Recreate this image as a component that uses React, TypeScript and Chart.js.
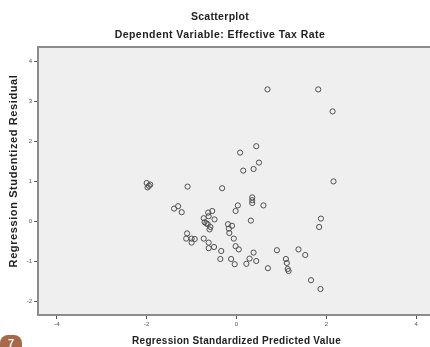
import React, { useEffect, useRef } from "react";
import { Chart, registerables } from "chart.js";

Chart.register(...registerables);

const titleText = "Scatterplot";
const subtitleText = "Dependent Variable: Effective Tax Rate";
const xAxisTitle = "Regression Standardized Predicted Value";
const yAxisTitle = "Regression Studentized Residual";

const xValues = [
  0.69, 1.82, 2.14, 0.44, 0.08, 0.5, 0.38, 0.15, 2.16, -2.0,
  -1.95, -1.98, -1.92, -1.09, -0.32, -1.39, -1.3, -1.22, 0.35, 0.35,
  0.35, 0.03, -0.02, 0.6, 0.32, -0.54, -0.63, -0.62, -0.73, -0.49,
  -0.71, -0.64, -0.58, -0.6, -0.67, -0.19, -0.1, -0.17, -0.16, -0.06,
  -1.1, -1.12, -1.0, -0.93, -1.0, -0.73, -0.62, -0.62, -0.5, -0.34,
  -0.36, -0.02, 0.05, -0.12, -0.04, 0.38, 0.29, 0.44, 0.22, 0.7,
  0.9, 1.38, 1.53, 1.1, 1.12, 1.14, 1.16, 1.66, 1.87, 1.88,
  1.84,
];
const yValues = [
  3.31, 3.31, 2.76, 1.89, 1.73, 1.48, 1.32, 1.28, 1.01, 0.97,
  0.9, 0.86, 0.93, 0.88, 0.84, 0.33, 0.39, 0.24, 0.61, 0.54,
  0.47, 0.41, 0.27, 0.41, 0.03, 0.27, 0.23, 0.14, 0.09, 0.06,
  -0.01, -0.06, -0.13, -0.19, -0.04, -0.06, -0.1, -0.17, -0.28, -0.42,
  -0.29, -0.42, -0.42, -0.43, -0.52, -0.42, -0.52, -0.66, -0.63, -0.73,
  -0.93, -0.61, -0.69, -0.93, -1.06, -0.77, -0.92, -0.98, -1.05, -1.16,
  -0.71, -0.69, -0.83, -0.93, -1.03, -1.18, -1.23, -1.46, -1.68, 0.08,
  -0.13,
];

const xMin = -4.42;
const xMax = 4.42;
const yMin = -2.33;
const yMax = 4.37;

export default function App() {
  const ref = useRef<HTMLCanvasElement | null>(null);

  useEffect(() => {
    if (!ref.current) return;
    const points = xValues.map((x, i) => ({ x, y: yValues[i] }));
    const framePlugin = {
      id: "frame",
      beforeDraw(chart: any) {
        const { ctx, chartArea } = chart;
        ctx.save();
        ctx.fillStyle = "#efefef";
        ctx.fillRect(chartArea.left, chartArea.top, chartArea.right - chartArea.left, chartArea.bottom - chartArea.top);
        ctx.restore();
      },
      afterDraw(chart: any) {
        const { ctx, chartArea } = chart;
        ctx.save();
        ctx.strokeStyle = "#8c8c8c";
        ctx.lineWidth = 2;
        ctx.strokeRect(chartArea.left, chartArea.top, chartArea.right - chartArea.left, chartArea.bottom - chartArea.top);
        ctx.fillStyle = "#222";
        ctx.textAlign = "center";
        ctx.textBaseline = "middle";
        ctx.font = "bold 10.5px 'Liberation Sans', Arial, sans-serif";
        ctx.letterSpacing = "0.3px";
        ctx.fillText(titleText, 220, 17);
        ctx.letterSpacing = "0.45px";
        ctx.fillText(subtitleText, 220, 35);
        ctx.font = "bold 10px 'Liberation Sans', Arial, sans-serif";
        ctx.letterSpacing = "0.3px";
        ctx.fillText(xAxisTitle, chart.scales.x.getPixelForValue(0), 341);
        ctx.font = "bold 11px 'Liberation Sans', Arial, sans-serif";
        ctx.letterSpacing = "0.6px";
        ctx.translate(14, 171);
        ctx.rotate(-Math.PI / 2);
        ctx.fillText(yAxisTitle, 0, 0);
        ctx.restore();
      },
    };
    const chart = new Chart(ref.current, {
      type: "scatter",
      data: {
        datasets: [
          {
            data: points,
            pointStyle: "circle",
            pointRadius: 2.6,
            pointBorderWidth: 1,
            pointBorderColor: "#505050",
            pointBackgroundColor: "rgba(0,0,0,0)",
          },
        ],
      },
      options: {
        animation: false,
        responsive: false,
        maintainAspectRatio: false,
        layout: { padding: { top: 47, bottom: 12, left: 0, right: 4 } },
        plugins: { legend: { display: false }, tooltip: { enabled: false }, title: { display: false } },
        scales: {
          x: {
            type: "linear",
            min: xMin,
            max: xMax,
            afterFit(scale: any) {
              scale.height = 20;
            },
            ticks: {
              stepSize: 2,
              includeBounds: false,
              maxRotation: 0,
              autoSkip: false,
              padding: 2,
              color: "#555",
              font: { size: 6, family: "'Liberation Sans', Arial, sans-serif" },
            },
            grid: { drawOnChartArea: false, drawTicks: true, tickLength: 4, color: "#555", lineWidth: 1 },
            border: { display: false },
          },
          y: {
            type: "linear",
            min: yMin,
            max: yMax,
            afterFit(scale: any) {
              scale.width = 38;
            },
            ticks: {
              stepSize: 1,
              includeBounds: false,
              autoSkip: false,
              padding: 2,
              color: "#555",
              font: { size: 6, family: "'Liberation Sans', Arial, sans-serif" },
            },
            grid: { drawOnChartArea: false, drawTicks: true, tickLength: 4, color: "#555", lineWidth: 1 },
            border: { display: false },
          },
        },
      },
      plugins: [framePlugin],
    } as any);
    return () => chart.destroy();
  }, []);

  return (
    <div style={{ position: "fixed", left: 0, top: 0, width: 430, height: 347, overflow: "hidden", background: "#fff" }}>
      <canvas ref={ref} width={440} height={347} style={{ display: "block", width: 440, height: 347 }} />
      <div
        style={{
          position: "absolute",
          left: 0,
          top: 335,
          width: 22,
          height: 16,
          borderRadius: "8px 8px 0 0",
          background: "#a8694b",
          color: "#fff",
          font: "bold 11px 'Liberation Sans', Arial, sans-serif",
          textAlign: "center",
          lineHeight: "16px",
        }}
      >
        7
      </div>
    </div>
  );
}
